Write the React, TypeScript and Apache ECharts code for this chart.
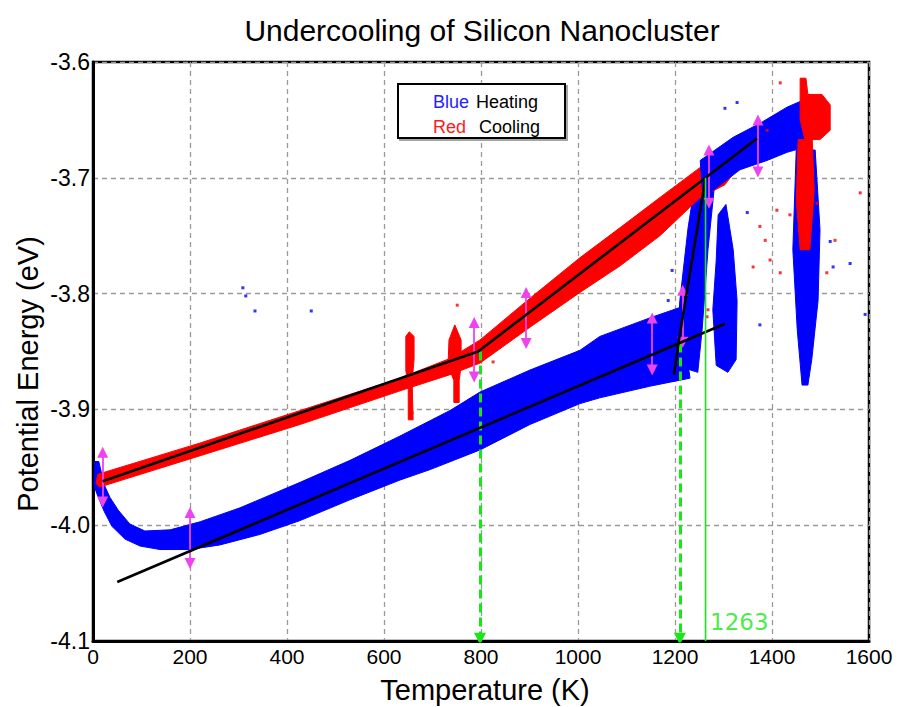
import { useEffect, useRef } from 'react';
import * as echarts from 'echarts';

// ---- axes ----
const xMin = 0, xMax = 1600, xStep = 200;
const yMin = -4.1, yMax = -3.6, yStep = 0.1;

// ---- heating (blue) point clouds, outlines [T (K), E (eV)] ----
const heatingMainBand = [
  [4, -3.945], [12, -3.945], [23, -3.965], [35, -3.976], [52, -3.987], [76, -3.999], [107, -4.005],
  [159, -4.004], [221, -3.997], [303, -3.985], [427, -3.963], [530, -3.944], [633, -3.923], [736, -3.901],
  [798, -3.885], [901, -3.866], [1004, -3.849], [1045, -3.837], [1148, -3.821], [1210, -3.812],
  [1231, -3.873], [1148, -3.880], [1045, -3.890], [1004, -3.895], [901, -3.913], [798, -3.935],
  [695, -3.952], [633, -3.961], [530, -3.978], [427, -3.996], [344, -4.008], [262, -4.017],
  [200, -4.021], [138, -4.021], [97, -4.018], [66, -4.012], [39, -4.001], [23, -3.988], [10, -3.975], [2, -3.966],
];
const heatingSteepBand = [
  [1202, -3.862], [1210, -3.806], [1227, -3.743], [1245, -3.695], [1285, -3.692], [1268, -3.762], [1256, -3.831], [1247, -3.868],
];
const heatingStreak1300 = [
  [1289, -3.732], [1305, -3.723], [1320, -3.762], [1328, -3.806], [1326, -3.857], [1309, -3.868], [1285, -3.862], [1278, -3.814], [1285, -3.771],
];
const heatingStreak1460 = [
  [1450, -3.676], [1489, -3.676], [1499, -3.745], [1495, -3.806], [1482, -3.857], [1474, -3.879], [1462, -3.879], [1452, -3.831], [1443, -3.762],
];
const heatingUpperBand = [
  [1252, -3.685], [1320, -3.665], [1375, -3.653], [1431, -3.639], [1464, -3.633], [1478, -3.628], [1485, -3.641],
  [1480, -3.672], [1431, -3.678], [1390, -3.685], [1334, -3.693], [1278, -3.711], [1258, -3.719],
];
const heatingOutliers = [
  [309, -3.795], [315, -3.802], [334, -3.815], [450, -3.815], [1303, -3.640], [1328, -3.635], [1349, -3.730],
  [1375, -3.827], [1526, -3.777], [1561, -3.774], [1592, -3.818], [1520, -3.755], [1493, -3.736], [1194, -3.780], [1186, -3.806],
];

// ---- cooling (red) point clouds ----
const coolingMainBand = [
  [10, -3.956], [221, -3.929], [427, -3.901], [633, -3.873], [736, -3.856], [798, -3.840], [901, -3.804],
  [1004, -3.769], [1087, -3.743], [1169, -3.717], [1252, -3.691], [1303, -3.677], [1344, -3.670],
  [1344, -3.683], [1303, -3.706], [1252, -3.717], [1169, -3.750], [1087, -3.776], [1004, -3.799],
  [901, -3.829], [798, -3.860], [736, -3.870], [633, -3.884], [427, -3.913], [221, -3.940], [14, -3.967], [6, -3.964],
];
const coolingSpike650 = [
  [645, -3.837], [652, -3.833], [662, -3.837], [662, -3.857], [658, -3.875], [660, -3.909], [650, -3.909], [650, -3.883], [645, -3.866],
];
const coolingSpike750 = [
  [734, -3.840], [746, -3.827], [759, -3.840], [759, -3.862], [755, -3.875], [755, -3.894], [744, -3.894], [744, -3.875], [732, -3.862],
];
const coolingTopCluster = [
  [1458, -3.614], [1470, -3.614], [1474, -3.628], [1503, -3.628], [1520, -3.637], [1520, -3.659], [1499, -3.667], [1468, -3.667], [1458, -3.650],
];
const coolingStreak1460 = [
  [1454, -3.667], [1483, -3.667], [1487, -3.711], [1478, -3.762], [1458, -3.762], [1450, -3.719],
];
const coolingOutliers = [
  [1417, -3.618], [1390, -3.659], [1493, -3.722], [1375, -3.742], [1396, -3.771], [1417, -3.782], [1361, -3.777],
  [1410, -3.728], [1530, -3.754], [1513, -3.782], [1582, -3.713], [1268, -3.814], [1266, -3.820], [658, -3.903],
  [751, -3.810], [825, -3.859], [1386, -3.754], [1437, -3.732],
];

// ---- fits ----
const coolingFit = [[20, -3.962], [794, -3.850], [1369, -3.666]];
const heatingFit = [[50, -4.049], [1303, -3.826]];
const meltingFit = [[1198, -3.870], [1207, -3.843], [1263, -3.700]];

// ---- annotations ----
const meltingPoint = 1263;
const dropArrowT = [798, 1210];
const dropArrowTop = [-3.850, -3.843];
const spreadT = [20, 200, 786, 893, 1153, 1216, 1270, 1371];
const spreadTop = [-3.937, -3.989, -3.825, -3.799, -3.821, -3.797, -3.676, -3.650];
const spreadBottom = [-3.980, -4.033, -3.872, -3.843, -3.866, -3.842, -3.722, -3.695];

const FONT = '"Liberation Sans", Arial, sans-serif';
const BLUE = '#0000ff';
const RED = '#ff0000';
const GREEN = '#19e619';
const MAGENTA = '#ee44ee';

function polygonSeries(polys: number[][][], color: string) {
  return {
    type: 'custom',
    silent: true,
    clip: true,
    data: polys.map((p) => p[0]),
    encode: { x: 0, y: 1 },
    renderItem: (params: any, api: any) => {
      const poly = polys[params.dataIndex];
      return {
        type: 'polygon',
        shape: { points: poly.map((pt) => api.coord(pt)) },
        style: { fill: color, stroke: color, lineWidth: 1 },
      };
    },
  };
}

function dotSeries(pts: number[][], color: string) {
  return {
    type: 'scatter',
    silent: true,
    symbol: 'rect',
    symbolSize: 3,
    itemStyle: { color },
    data: pts,
  };
}

function fitSeries(pts: number[][]) {
  return {
    type: 'line',
    silent: true,
    showSymbol: false,
    symbol: 'none',
    data: pts,
    lineStyle: { color: '#000', width: 2.6 },
  };
}

export default function App() {
  const ref = useRef<HTMLDivElement>(null);
  useEffect(() => {
    const chart = echarts.init(ref.current!, null, { renderer: 'svg' });
    const option: any = {
      animation: false,
      backgroundColor: '#fff',
      grid: {
        left: 93, right: 29, top: 62, bottom: 66,
        show: true, borderColor: '#000', borderWidth: 2.5, backgroundColor: 'transparent',
      },
      xAxis: {
        type: 'value', min: xMin, max: xMax, interval: xStep,
        axisLine: { show: true, lineStyle: { color: '#000', width: 3 } },
        axisTick: { show: false },
        axisLabel: {
          color: '#000', fontSize: 21, fontFamily: FONT, margin: 5,
          formatter: (v: number) => String(v),
        },
        splitLine: { show: true, lineStyle: { color: '#9a9a9a', width: 1.3, type: [5, 4] } },
      },
      yAxis: {
        type: 'value', min: yMin, max: yMax, interval: yStep,
        axisLine: { show: true, lineStyle: { color: '#000', width: 3 } },
        axisTick: { show: false },
        axisLabel: {
          color: '#000', fontSize: 23, fontFamily: FONT, margin: 3,
          formatter: (v: number) => v.toFixed(1),
        },
        splitLine: { show: true, lineStyle: { color: '#9a9a9a', width: 1.3, type: [5, 4] } },
      },
      series: [
        polygonSeries([heatingMainBand, heatingSteepBand, heatingStreak1300, heatingStreak1460], BLUE),
        dotSeries(heatingOutliers, BLUE),
        polygonSeries([coolingMainBand, coolingSpike650, coolingSpike750], RED),
        polygonSeries([heatingUpperBand], BLUE),
        polygonSeries([coolingTopCluster, coolingStreak1460], RED),
        dotSeries(coolingOutliers, RED),
        fitSeries(coolingFit),
        fitSeries(heatingFit),
        fitSeries(meltingFit),
        {
          type: 'line', silent: true, symbol: 'none',
          data: [[meltingPoint, meltingFit[meltingFit.length - 1][1]], [meltingPoint, yMin]],
          lineStyle: { color: GREEN, width: 1.6 },
        },
        {
          type: 'lines', coordinateSystem: 'cartesian2d', silent: true,
          symbol: ['none', 'triangle'], symbolSize: 12,
          lineStyle: { color: GREEN, width: 3, type: [9, 5], opacity: 1 },
          itemStyle: { color: GREEN },
          data: dropArrowT.map((t, i) => ({ coords: [[t, dropArrowTop[i]], [t, yMin + 0.002]] })),
        },
        {
          type: 'lines', coordinateSystem: 'cartesian2d', silent: true,
          symbol: ['triangle', 'triangle'], symbolSize: 11,
          lineStyle: { color: MAGENTA, width: 1.8, opacity: 1 },
          itemStyle: { color: MAGENTA },
          data: spreadT.map((t, i) => ({ coords: [[t, spreadTop[i]], [t, spreadBottom[i]]] })),
        },
        {
          type: 'scatter', silent: true, symbolSize: 1,
          itemStyle: { color: 'transparent' },
          data: [[meltingPoint, -4.0836]],
          label: {
            show: true, position: 'right', distance: 4,
            formatter: () => String(meltingPoint),
            color: GREEN, fontSize: 23, fontFamily: '"DejaVu Sans", Verdana, sans-serif',
          },
        },
      ],
      graphic: [
        {
          type: 'text', x: 482, y: 30, z: 100,
          style: {
            text: 'Undercooling of Silicon Nanocluster', fill: '#000',
            font: `30px ${FONT}`, textAlign: 'center', textVerticalAlign: 'middle',
            align: 'center', verticalAlign: 'middle',
          },
        },
        {
          type: 'text', x: 485, y: 690, z: 100,
          style: {
            text: 'Temperature (K)', fill: '#000',
            font: `29px ${FONT}`, textAlign: 'center', textVerticalAlign: 'middle',
            align: 'center', verticalAlign: 'middle',
          },
        },
        {
          type: 'text', x: 28, y: 374, z: 100, rotation: Math.PI / 2,
          style: {
            text: 'Potential Energy (eV)', fill: '#000',
            font: `29px ${FONT}`, textAlign: 'center', textVerticalAlign: 'middle',
            align: 'center', verticalAlign: 'middle',
          },
        },
        {
          type: 'rect', z: 100,
          shape: { x: 398, y: 84, width: 167, height: 54 },
          style: { fill: '#fff', stroke: '#000', lineWidth: 2, shadowColor: 'rgba(0,0,0,0.35)', shadowOffsetX: 2, shadowOffsetY: 2 },
        },
        {
          type: 'text', x: 433, y: 102, z: 101,
          style: { text: 'Blue', fill: '#2222ff', font: `18px ${FONT}`, textVerticalAlign: 'middle', verticalAlign: 'middle' },
        },
        {
          type: 'text', x: 476, y: 102, z: 101,
          style: { text: 'Heating', fill: '#000', font: `18px ${FONT}`, textVerticalAlign: 'middle', verticalAlign: 'middle' },
        },
        {
          type: 'text', x: 433, y: 127, z: 101,
          style: { text: 'Red', fill: '#ff1a1a', font: `18px ${FONT}`, textVerticalAlign: 'middle', verticalAlign: 'middle' },
        },
        {
          type: 'text', x: 479, y: 127, z: 101,
          style: { text: 'Cooling', fill: '#000', font: `18px ${FONT}`, textVerticalAlign: 'middle', verticalAlign: 'middle' },
        },
      ],
    };
    chart.setOption(option);
    return () => chart.dispose();
  }, []);
  return (
    <div
      ref={ref}
      style={{ position: 'fixed', left: 0, top: 0, width: 898, height: 707, background: '#fff' }}
    />
  );
}
